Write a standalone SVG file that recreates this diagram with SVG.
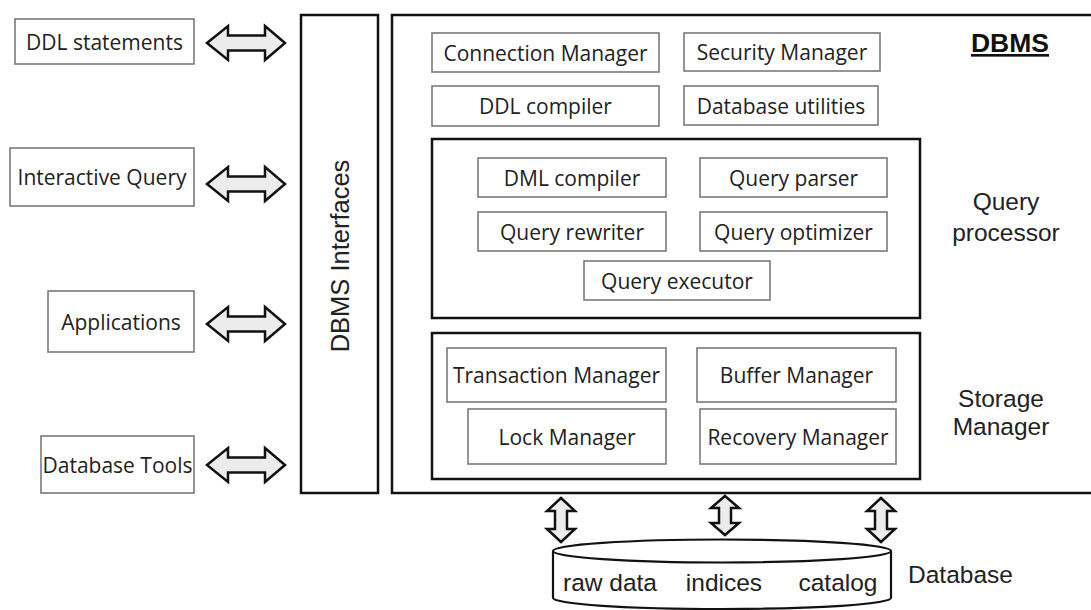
<svg xmlns="http://www.w3.org/2000/svg" width="1091" height="610" viewBox="0 0 1091 610">
<style>
.bx{fill:#fff;stroke:#7a7a7a;stroke-width:1.6}
.big{fill:#fff;stroke:#111;stroke-width:2.5}
.t{font-family:"Open Sans",sans-serif;font-size:21px;fill:#222;text-anchor:middle;dominant-baseline:central}
.a{font-family:"Liberation Sans",Arial,sans-serif;font-size:24.5px;fill:#222;text-anchor:middle}
.arr{fill:#ececec;stroke:#111;stroke-width:2.5;stroke-linejoin:miter}
</style>
<rect width="1091" height="610" fill="#fff"/>

<g id="ddl-statements"><rect class="bx" x="15" y="19" width="179" height="45"/><text class="t" x="104.5" y="41.5">DDL statements</text></g>
<g id="interactive-query"><rect class="bx" x="10" y="148" width="184" height="58"/><text class="t" x="102" y="177">Interactive Query</text></g>
<g id="applications"><rect class="bx" x="48" y="291" width="146" height="61"/><text class="t" x="121" y="321.5">Applications</text></g>
<g id="database-tools"><rect class="bx" x="41" y="436" width="153" height="57"/><text class="t" x="117.5" y="464.5">Database Tools</text></g>

<g id="dbms-interfaces"><rect class="big" x="301" y="15" width="77" height="478"/><text class="a" style="font-size:25.5px" transform="translate(349,256) rotate(-90)">DBMS Interfaces</text></g>

<g id="dbms"><rect class="big" x="392" y="15" width="720" height="478"/>
<text x="1010" y="52" style="font-family:'Liberation Sans',Arial,sans-serif;font-size:26.5px;font-weight:bold;fill:#111;text-anchor:middle;text-decoration:underline">DBMS</text></g>

<g id="connection-manager"><rect class="bx" x="432" y="33" width="227" height="39"/><text class="t" x="545.5" y="52.5">Connection Manager</text></g>
<g id="security-manager"><rect class="bx" x="684" y="33" width="196" height="38"/><text class="t" x="782" y="52">Security Manager</text></g>
<g id="ddl-compiler"><rect class="bx" x="432" y="86" width="227" height="40"/><text class="t" x="545.5" y="106">DDL compiler</text></g>
<g id="database-utilities"><rect class="bx" x="684" y="86" width="194" height="39"/><text class="t" x="781" y="105.5">Database utilities</text></g>

<g id="query-processor"><rect class="big" x="432" y="139" width="488" height="179"/>
<text class="a" x="1006" y="210">Query</text><text class="a" x="1006" y="241">processor</text></g>
<g id="dml-compiler"><rect class="bx" x="478" y="158" width="188" height="39"/><text class="t" x="572" y="177.5">DML compiler</text></g>
<g id="query-parser"><rect class="bx" x="700" y="158" width="187" height="39"/><text class="t" x="793.5" y="177.5">Query parser</text></g>
<g id="query-rewriter"><rect class="bx" x="478" y="212" width="188" height="39"/><text class="t" x="572" y="231.5">Query rewriter</text></g>
<g id="query-optimizer"><rect class="bx" x="700" y="212" width="187" height="39"/><text class="t" x="793.5" y="231.5">Query optimizer</text></g>
<g id="query-executor"><rect class="bx" x="584" y="261" width="186" height="39"/><text class="t" x="677" y="280.5">Query executor</text></g>

<g id="storage-manager"><rect class="big" x="432" y="333" width="488" height="146"/>
<text class="a" x="1001" y="407">Storage</text><text class="a" x="1001" y="435">Manager</text></g>
<g id="transaction-manager"><rect class="bx" x="447" y="348" width="219" height="54"/><text class="t" x="556.5" y="375">Transaction Manager</text></g>
<g id="buffer-manager"><rect class="bx" x="697" y="348" width="199" height="54"/><text class="t" x="796.5" y="375">Buffer Manager</text></g>
<g id="lock-manager"><rect class="bx" x="468" y="409" width="198" height="55"/><text class="t" x="567" y="436.5">Lock Manager</text></g>
<g id="recovery-manager"><rect class="bx" x="700" y="409" width="196" height="55"/><text class="t" x="798" y="436.5">Recovery Manager</text></g>

<g id="database">
<path d="M553,551 L553,598 A169,11 0 0 0 891,598 L891,551" fill="#fff" stroke="#111" stroke-width="2.2"/>
<ellipse cx="722" cy="551" rx="169" ry="11.5" fill="#fff" stroke="#111" stroke-width="2.2"/>
<text class="a" x="610" y="591">raw data</text>
<text class="a" x="724" y="591">indices</text>
<text class="a" x="838" y="591">catalog</text>
<text class="a" x="960.5" y="583">Database</text>
</g>

<g id="connectors">
<path class="arr" d="M207,43 L228,26 L228,35.5 L265,35.5 L265,26 L285,43 L265,60 L265,50.5 L228,50.5 L228,60 Z"/>
<path class="arr" d="M207,184 L228,167 L228,176.5 L265,176.5 L265,167 L285,184 L265,201 L265,191.5 L228,191.5 L228,201 Z"/>
<path class="arr" d="M207,324 L228,307 L228,316.5 L265,316.5 L265,307 L285,324 L265,341 L265,331.5 L228,331.5 L228,341 Z"/>
<path class="arr" d="M207,465 L228,448 L228,457.5 L265,457.5 L265,448 L285,465 L265,482 L265,472.5 L228,472.5 L228,482 Z"/>
<path class="arr" d="M561,498 L575,511 L567,511 L567,529 L575,529 L561,542 L547,529 L555,529 L555,511 L547,511 Z"/>
<path class="arr" d="M725,496 L739,508 L731,508 L731,523 L739,523 L725,535 L711,523 L719,523 L719,508 L711,508 Z"/>
<path class="arr" d="M881,498 L895,511 L887,511 L887,529 L895,529 L881,542 L867,529 L875,529 L875,511 L867,511 Z"/>
</g>
</svg>
